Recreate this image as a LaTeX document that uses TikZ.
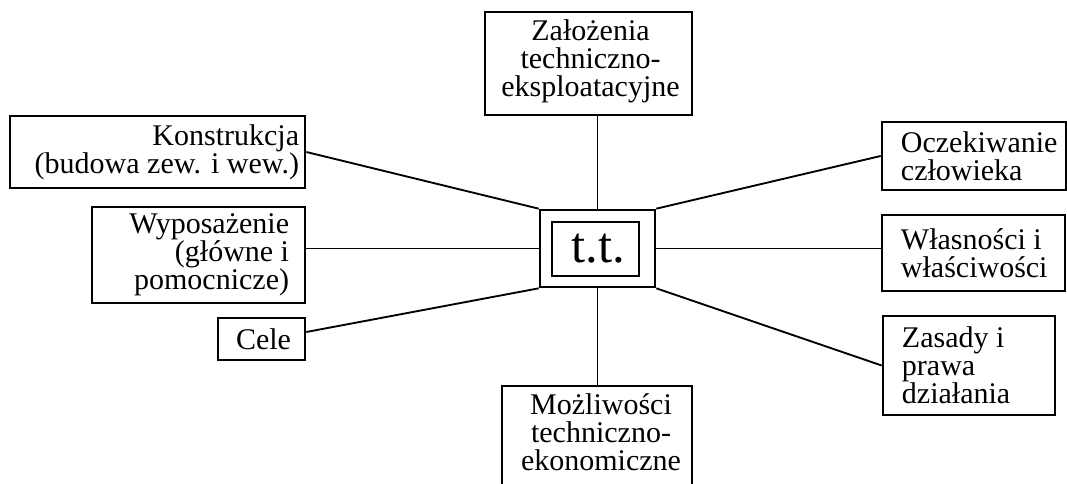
\documentclass[tikz,border=0pt]{standalone}
\usepackage{fontspec}
\setmainfont{Liberation Serif}
\usetikzlibrary{calc}
\begin{document}
\begin{tikzpicture}[x=0.75pt,y=-0.75pt,
  box/.style={draw, line width=2pt, inner sep=0pt},
  txt/.style={font=\fontsize{22.5}{21}\selectfont, inner sep=0pt},
  conn/.style={line width=1.4pt},
  thinconn/.style={line width=0.9pt}]
\useasboundingbox (0,0) rectangle (1067,484);
\clip (0,0) rectangle (1067,484);
\fill[white] (0,0) rectangle (1067,484);
% boxes
\node[box, minimum width=155.25pt, minimum height=77.25pt] (zal) at (588.5,63.5) {};
\node[box, minimum width=221.25pt, minimum height=54pt] (kon) at (157.5,152) {};
\node[box, minimum width=159.75pt, minimum height=72pt] (wyp) at (198.5,255) {};
\node[box, minimum width=65.25pt, minimum height=31.5pt] (cel) at (261.5,339) {};
\node[box, minimum width=138pt, minimum height=51pt] (ocz) at (974,156) {};
\node[box, minimum width=137.25pt, minimum height=57pt] (wla) at (973.5,253) {};
\node[box, minimum width=129pt, minimum height=74.25pt] (zas) at (969,365.5) {};
\node[box, minimum width=142.5pt, minimum height=79.5pt] (moz) at (597,439) {};
\node[box, minimum width=86.25pt, minimum height=57.75pt] (tt) at (597.5,248.5) {};
\node[box, minimum width=65.25pt, minimum height=40.5pt] (tti) at (595.5,249) {};
% texts
\node[txt, align=center] (zalt) at ($(zal)+(2,-2)$) {Założenia\\techniczno-\\eksploatacyjne};
\node[txt, align=right, anchor=east] (kont) at ($(kon.east)+(-7,0)$) {Konstrukcja\\(budowa zew. i wew.)};
\node[txt, align=right, anchor=east] (wypt) at ($(wyp.east)+(-17,0)$) {Wyposażenie\\(główne i\\pomocnicze)};
\node[txt] (celt) at ($(cel)+(2,0)$) {Cele};
\node[txt, align=left, anchor=west] (oczt) at ($(ocz.west)+(20,0)$) {Oczekiwanie\\człowieka};
\node[txt, align=left, anchor=west] (wlat) at ($(wla.west)+(20,0)$) {Własności i\\właściwości};
\node[txt, align=left, anchor=west] (zast) at ($(zas.west)+(20,0)$) {Zasady i\\prawa\\działania};
\node[txt, align=center, anchor=north] (mozt) at ($(moz.north)+(4,9)$) {Możliwości\\techniczno-\\ekonomiczne};
\node[inner sep=0pt, font=\fontsize{38}{38}\selectfont] (ttt) at ($(tti)+(3,0)$) {t.t.};
% connectors
\draw[conn] (zal.south -| tt.north) -- (tt.north);
\draw[conn] (kon.east) -- (tt.north west);
\draw[conn] (wyp.east |- tt.west) -- (tt.west);
\draw[conn] ($(cel.east)+(0,-7)$) -- (tt.south west);
\draw[conn] (ocz.west) -- (tt.north east);
\draw[conn] (wla.west |- tt.east) -- (tt.east);
\draw[conn] (zas.west) -- (tt.south east);
\draw[thinconn] (tt.south) -- (moz.north -| tt.south);
\end{tikzpicture}
\end{document}
